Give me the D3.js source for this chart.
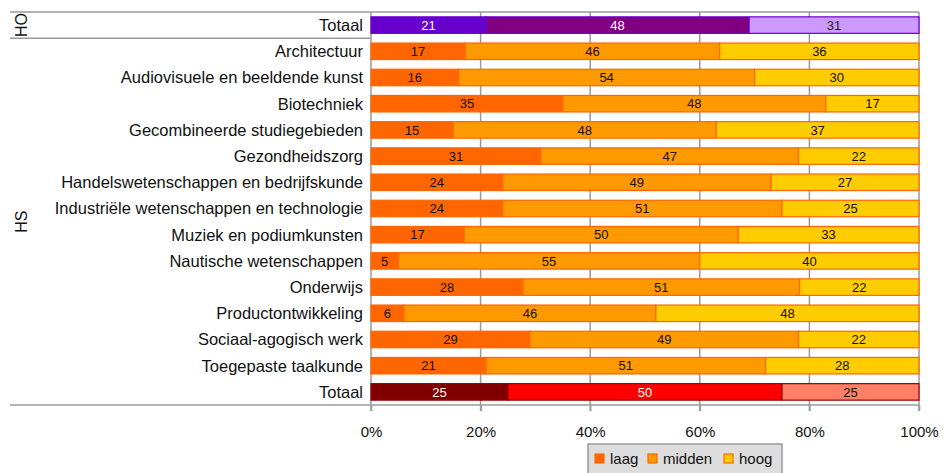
<!DOCTYPE html>
<html><head><meta charset="utf-8">
<script src="https://cdn.jsdelivr.net/npm/d3@7"></script>
<style>body{margin:0;background:#fff}svg{display:block;font-family:"Liberation Sans",Arial,sans-serif}</style>
</head><body><svg id="c" width="944" height="473"></svg>
<script>
const groups = ["HO","HS","HS","HS","HS","HS","HS","HS","HS","HS","HS","HS","HS","HS","HS"];
const categories = ["Totaal","Architectuur","Audiovisuele en beeldende kunst","Biotechniek","Gecombineerde studiegebieden","Gezondheidszorg","Handelswetenschappen en bedrijfskunde","Industriële wetenschappen en technologie","Muziek en podiumkunsten","Nautische wetenschappen","Onderwijs","Productontwikkeling","Sociaal-agogisch werk","Toegepaste taalkunde","Totaal"];
const laag   = [21,17,16,35,15,31,24,24,17,5,28,6,29,21,25];
const midden = [48,46,54,48,48,47,49,51,50,55,51,46,49,51,50];
const hoog   = [31,36,30,17,37,22,27,25,33,40,22,48,22,28,25];
const seriesNames = ["laag","midden","hoog"];
const tickValues = [0,20,40,60,80,100];

const schemes = {
  ho:  {fill:["#6600cc","#800080","#cc99ff"], stroke:"#6a00d0", text:["#fff","#fff","#222"]},
  hs:  {fill:["#ff6600","#ff9900","#ffcc00"], stroke:"#ff6600", text:["#111","#111","#111"]},
  hst: {fill:["#800000","#ff0000","#ff8066"], stroke:"#990000", text:["#fff","#fff","#111"]}
};
function schemeFor(i){ if(groups[i]==="HO") return schemes.ho; if(categories[i]==="Totaal") return schemes.hst; return schemes.hs; }

const svg = d3.select("#c");
const x0 = 371, x1 = 919, yTop = 12, yBot = 405;
const x = d3.scaleLinear().domain([0,100]).range([x0,x1]);
const keys = categories.map((c,i)=>i);
const y = d3.scaleBand().domain(keys).range([yTop,yBot]).paddingInner(0.37).paddingOuter(0.185);

// gridlines
svg.append("g").selectAll("line").data(tickValues).join("line")
  .attr("x1",d=>x(d)).attr("x2",d=>x(d)).attr("y1",yTop).attr("y2",yBot+6)
  .attr("stroke","#9a9a9a").attr("stroke-width",1.5);

// frame lines
svg.append("line").attr("x1",10).attr("x2",x1).attr("y1",yTop).attr("y2",yTop).attr("stroke","#9a9a9a").attr("stroke-width",1.5);
svg.append("line").attr("x1",10).attr("x2",x1).attr("y1",yBot).attr("y2",yBot).attr("stroke","#9a9a9a").attr("stroke-width",1.5);
const sepY = y(1) - (y.step()-y.bandwidth())/2;
svg.append("line").attr("x1",10).attr("x2",x0).attr("y1",sepY).attr("y2",sepY).attr("stroke","#9a9a9a").attr("stroke-width",1.5);

// bars
const rows = categories.map((c,i)=>{
  const vals=[laag[i],midden[i],hoog[i]]; const tot=d3.sum(vals);
  let acc=0; const segs=vals.map((v,k)=>{const s={i,k,v,start:acc/tot*100,end:(acc+v)/tot*100}; acc+=v; return s;});
  return segs;
});
const barG = svg.append("g");
rows.forEach((segs,i)=>{
  const sc = schemeFor(i);
  segs.forEach(s=>{
    barG.append("rect").attr("x",x(s.start)).attr("y",y(i)).attr("width",x(s.end)-x(s.start)).attr("height",y.bandwidth())
      .attr("fill",sc.fill[s.k]).attr("stroke",sc.stroke).attr("stroke-width",1.2);
  });
  segs.forEach(s=>{
    barG.append("text").attr("x",(x(s.start)+x(s.end))/2).attr("y",y(i)+y.bandwidth()/2).attr("dy","0.36em")
      .attr("text-anchor","middle").attr("font-size",13).attr("fill",sc.text[s.k]).text(s.v);
  });
});

// category labels
svg.append("g").selectAll("text").data(keys).join("text")
  .attr("x",363).attr("y",d=>y(d)+y.bandwidth()/2).attr("dy","0.36em").attr("text-anchor","end")
  .attr("font-size",16.5).attr("fill","#111").text(d=>categories[d]);

// group labels
const groupNames = Array.from(new Set(groups));
groupNames.forEach(g=>{
  const idx = keys.filter(i=>groups[i]===g);
  const top = y(idx[0]) - (y.step()-y.bandwidth())/2;
  const bot = y(idx[idx.length-1]) + y.bandwidth() + (y.step()-y.bandwidth())/2;
  const cy = (top+bot)/2;
  svg.append("text").attr("transform",`translate(21,${cy}) rotate(-90)`).attr("text-anchor","middle").attr("dy","0.36em")
    .attr("font-size",16).attr("fill","#111").text(g);
});

// x axis
const ax = svg.append("g").attr("transform",`translate(0,${yBot})`)
  .call(d3.axisBottom(x).tickValues(tickValues).tickFormat(d=>d+"%").tickSize(6).tickPadding(15));
ax.select(".domain").remove();
ax.selectAll("line").attr("stroke","#9a9a9a").attr("stroke-width",1.5);
ax.selectAll("text").attr("font-size",15).attr("fill","#111").attr("font-family","Liberation Sans, Arial, sans-serif");

// legend
const lg = svg.append("g").attr("transform","translate(588,444)");
lg.append("rect").attr("x",0).attr("y",0).attr("width",194).attr("height",32).attr("fill","#dddddd").attr("stroke","#999").attr("stroke-width",1.5);
const legX=[7,60,136];
seriesNames.forEach((n,k)=>{
  lg.append("rect").attr("x",legX[k]).attr("y",10).attr("width",9).attr("height",9)
    .attr("fill",schemes.hs.fill[k]).attr("stroke",schemes.hs.stroke).attr("stroke-width",1.2);
  lg.append("text").attr("x",legX[k]+15).attr("y",15).attr("dy","0.36em").attr("font-size",15).attr("fill","#111").text(n);
});
</script></body></html>
